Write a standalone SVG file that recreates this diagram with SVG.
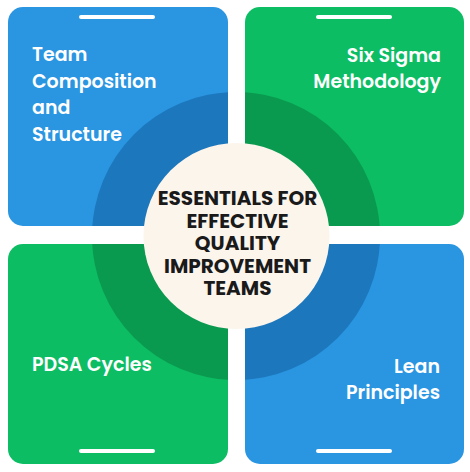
<svg xmlns="http://www.w3.org/2000/svg" width="470" height="472" viewBox="0 0 470 472">
<defs>
<style>
.lbl{font-family:Poppins,"Open Sans","Noto Sans",sans-serif;font-weight:600;font-size:19px;fill:#ffffff}
.ttl{font-family:Poppins,"Open Sans","Noto Sans",sans-serif;font-weight:700;font-size:20px;fill:#1a1a1a;text-anchor:middle}
.bar{fill:#ffffff}
.blue{fill:#2A95E1}
.green{fill:#0CBD63}
.dblue{fill:#1C77BD}
.dgreen{fill:#0A9A4F}
</style>
<clipPath id="c1"><rect x="8" y="7" width="220" height="219" rx="15"/></clipPath>
<clipPath id="c2"><rect x="245" y="7" width="219" height="219" rx="15"/></clipPath>
<clipPath id="c3"><rect x="8" y="244" width="220" height="220" rx="15"/></clipPath>
<clipPath id="c4"><rect x="245" y="244" width="219" height="220" rx="15"/></clipPath>
</defs>
<rect width="470" height="472" fill="#ffffff"/>
<g id="team-composition">
<rect class="blue" x="8" y="7" width="220" height="219" rx="15"/>
<circle class="dblue" cx="236" cy="236" r="144" clip-path="url(#c1)"/>
<rect class="bar" x="79" y="15" width="76" height="4" rx="2"/>
<text class="lbl" x="32" y="61">Team</text>
<text class="lbl" x="32" y="87.5">Composition</text>
<text class="lbl" x="32" y="114">and</text>
<text class="lbl" x="32" y="140.5">Structure</text>
</g>
<g id="six-sigma">
<rect class="green" x="245" y="7" width="219" height="219" rx="15"/>
<circle class="dgreen" cx="236" cy="236" r="144" clip-path="url(#c2)"/>
<rect class="bar" x="316" y="15" width="76" height="4" rx="2"/>
<text class="lbl" x="441" y="62" text-anchor="end">Six Sigma</text>
<text class="lbl" x="441" y="88" text-anchor="end">Methodology</text>
</g>
<g id="pdsa">
<rect class="green" x="8" y="244" width="220" height="220" rx="15"/>
<circle class="dgreen" cx="236" cy="236" r="144" clip-path="url(#c3)"/>
<rect class="bar" x="79" y="449" width="76" height="4" rx="2"/>
<text class="lbl" x="32" y="371">PDSA Cycles</text>
</g>
<g id="lean">
<rect class="blue" x="245" y="244" width="219" height="220" rx="15"/>
<circle class="dblue" cx="236" cy="236" r="144" clip-path="url(#c4)"/>
<rect class="bar" x="316" y="449" width="76" height="4" rx="2"/>
<text class="lbl" x="440" y="373" text-anchor="end">Lean</text>
<text class="lbl" x="440" y="399" text-anchor="end">Principles</text>
</g>
<g id="center">
<circle cx="236.5" cy="236" r="93" fill="#FCF5EC"/>
<text class="ttl" x="237.5" y="205">ESSENTIALS FOR</text>
<text class="ttl" x="237.5" y="227.5">EFFECTIVE</text>
<text class="ttl" x="237.5" y="250">QUALITY</text>
<text class="ttl" x="237.5" y="272.5">IMPROVEMENT</text>
<text class="ttl" x="237.5" y="295">TEAMS</text>
</g>
<g id="connectors"></g>
</svg>
